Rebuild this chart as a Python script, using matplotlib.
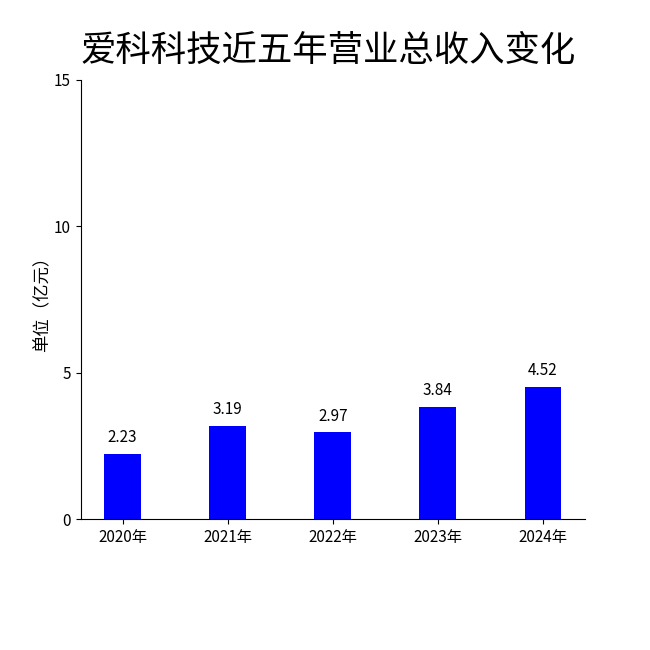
import matplotlib
matplotlib.use('Agg')
import matplotlib.pyplot as plt

plt.rcParams['font.family'] = ['Noto Sans CJK SC', 'DejaVu Sans']

years = ['2020年', '2021年', '2022年', '2023年', '2024年']
revenue = [2.23, 3.19, 2.97, 3.84, 4.52]

fig = plt.figure(figsize=(6.5, 6.5), dpi=100)
ax = fig.add_axes([0.124, 0.2015, 0.776, 0.6755])

bars = ax.bar(range(len(years)), revenue, width=0.35, color='#0000ff')
for x, v in zip(range(len(years)), revenue):
    ax.text(x, v + 0.25, f'{v:.2f}', ha='center', va='bottom', fontsize=11)

ax.set_xticks(range(len(years)))
ax.set_xticklabels(years, fontsize=11)
ax.set_yticks([0, 5, 10, 15])
ax.tick_params(axis='y', labelsize=11)
ax.set_xlim(-0.4, 4.4)
ax.set_ylim(0, 15)
ax.spines['top'].set_visible(False)
ax.spines['right'].set_visible(False)
ax.set_ylabel('单位（亿元）', fontsize=12.5, labelpad=2)

fig.text(0.505, 0.922, '爱科科技近五年营业总收入变化', ha='center', va='center', fontsize=25.5)

fig.savefig('out.png', dpi=100)
